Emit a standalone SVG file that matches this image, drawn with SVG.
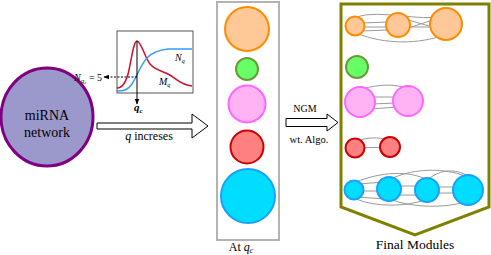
<svg xmlns="http://www.w3.org/2000/svg" width="491" height="255" viewBox="0 0 491 255">
<style>
text{font-family:"Liberation Serif","DejaVu Serif",serif;fill:#000}
.it{font-style:italic}
.e{fill:none;stroke:#9a9a9a;stroke-width:1}
.or{fill:#FFC896;stroke:#FF8C00;stroke-width:2}
.gr{fill:#66FF66;stroke:#6B9A3A;stroke-width:2}
.pk{fill:#FFB3F5;stroke:#FF66FF;stroke-width:2}
.rd{fill:#FF8080;stroke:#CC0000;stroke-width:2}
.cy{fill:#00DDFF;stroke:#1AA0FF;stroke-width:2}
.hollow{fill:#fff;stroke:#000;stroke-width:1}
</style>
<defs>
<marker id="ah" viewBox="0 0 10 10" refX="9" refY="5" markerWidth="6" markerHeight="6" orient="auto">
<path d="M0,1 L10,5 L0,9 Z" fill="#000"/>
</marker>
</defs>
<rect width="491" height="255" fill="#fff"/>

<g id="mirna-network">
<ellipse cx="47" cy="117" rx="46" ry="49" fill="#9B99CC" stroke="#800080" stroke-width="3"/>
<text x="47" y="120" font-size="14" text-anchor="middle">miRNA</text>
<text x="47" y="137" font-size="14" text-anchor="middle">network</text>
</g>

<g id="plot">
<rect x="117" y="31" width="76" height="62" fill="#fff" stroke="#555" stroke-width="1"/>
<path d="M117,88 C122,88 126,84 129,70 C132,55 134,41 137,41 C141,41 145,58 150,64 C155,70 162,71 168,74 C176,78 180,85 192,86" fill="none" stroke="#D0102A" stroke-width="1.5"/>
<path d="M117,91 C124,91 128,90 132,84 C137,76 142,62 148,57 C153,52 160,50 168,49 L192,49" fill="none" stroke="#3399FF" stroke-width="1.5"/>
<text x="175" y="61" font-size="10" class="it">N<tspan font-size="6" dy="2">q</tspan></text>
<text x="159" y="85" font-size="10" class="it">M<tspan font-size="6" dy="2">q</tspan></text>
<text x="74" y="81" font-size="10"><tspan class="it">N</tspan><tspan class="it" font-size="7" dy="2">q</tspan><tspan font-size="5" class="it" dy="1">c</tspan><tspan dy="-3"> = 5</tspan></text>
</g>

<g id="connectors">
<line x1="137" y1="41" x2="137" y2="104" stroke="#000" stroke-width="1" marker-end="url(#ah)"/>
<line x1="137" y1="77" x2="104" y2="77" stroke="#000" stroke-width="1" stroke-dasharray="2,1.5" marker-end="url(#ah)"/>
<polygon class="hollow" points="97,123 192,123 192,114 208,126 192,138 192,129 97,129"/>
<polygon class="hollow" points="286,118.5 327,118.5 327,114 338,122.5 327,131 327,126.5 286,126.5"/>
</g>

<g id="labels">
<text x="134" y="111" font-size="11" class="it" font-weight="bold">q<tspan font-size="7" dy="2">c</tspan></text>
<text x="149" y="140" font-size="12" text-anchor="middle"><tspan class="it">q</tspan> increses</text>
<text x="305" y="112" font-size="10" text-anchor="middle">NGM</text>
<text x="309" y="143" font-size="10.5" text-anchor="middle">wt. Algo.</text>
</g>

<g id="at-qc">
<rect x="217" y="2" width="62" height="238" fill="#fff" stroke="#b3b3b3" stroke-width="2"/>
<circle class="or" cx="247" cy="29" r="22"/>
<circle class="gr" cx="247" cy="69" r="11"/>
<circle class="pk" cx="247" cy="104" r="18.5"/>
<circle class="rd" cx="247" cy="147" r="16.5"/>
<circle class="cy" cx="248" cy="196" r="27"/>
<text x="241" y="251" font-size="12" text-anchor="middle">At <tspan class="it">q</tspan><tspan class="it" font-size="8" dy="2">c</tspan></text>
</g>

<g id="final-modules">
<polygon points="341,4 489,4 489,207 415,235 341,207" fill="#fff" stroke="#808000" stroke-width="3"/>
<text x="415" y="249" font-size="13.5" text-anchor="middle">Final Modules</text>
</g>

<g id="module-edges">
<path class="e" d="M356,17 C380,9 420,22 444,16"/>
<path class="e" d="M356,33 C385,45 420,44 444,35"/>
<path class="e" d="M362,23 L388,22 M363,27 L387,27 M362,31 L388,30"/>
<path class="e" d="M405,19 L436,28 M405,29 L436,19 M409,27 L432,27"/>
<path class="e" d="M362,89 C380,84 395,84 406,88 M372,97 L396,97 M372,104 L396,103 M372,109 L396,107"/>
<path class="e" d="M355,148 L390,147 M357,141 C368,137 378,137 388,140"/>
<path class="e" d="M358,184 L385,182 M360,191 L383,191 M358,197 L385,199"/>
<path class="e" d="M395,186 L420,186 M395,195 L420,195 M432,187 L460,187 M432,193 L460,193"/>
<path class="e" d="M356,182 C380,172 410,170 427,180"/>
<path class="e" d="M393,178 C415,168 445,168 465,176"/>
<path class="e" d="M430,178 C440,170 455,168 468,176"/>
<path class="e" d="M356,199 C375,207 405,207 425,200"/>
<path class="e" d="M392,200 C415,208 445,208 465,202"/>
</g>

<g id="module-orange">
<circle class="or" cx="355" cy="26" r="9.5"/>
<circle class="or" cx="398" cy="25" r="12"/>
<circle class="or" cx="446" cy="24" r="16"/>
</g>
<g id="module-green">
<circle class="gr" cx="357" cy="67" r="11"/>
</g>
<g id="module-pink">
<circle class="pk" cx="360" cy="102" r="15"/>
<circle class="pk" cx="408" cy="101" r="15"/>
</g>
<g id="module-red">
<circle class="rd" cx="355" cy="148" r="9.5"/>
<circle class="rd" cx="390" cy="147" r="10"/>
</g>
<g id="module-cyan">
<circle class="cy" cx="354" cy="190" r="9.5"/>
<circle class="cy" cx="389" cy="189" r="12"/>
<circle class="cy" cx="427" cy="190" r="12"/>
<circle class="cy" cx="468" cy="190" r="15"/>
</g>
</svg>
